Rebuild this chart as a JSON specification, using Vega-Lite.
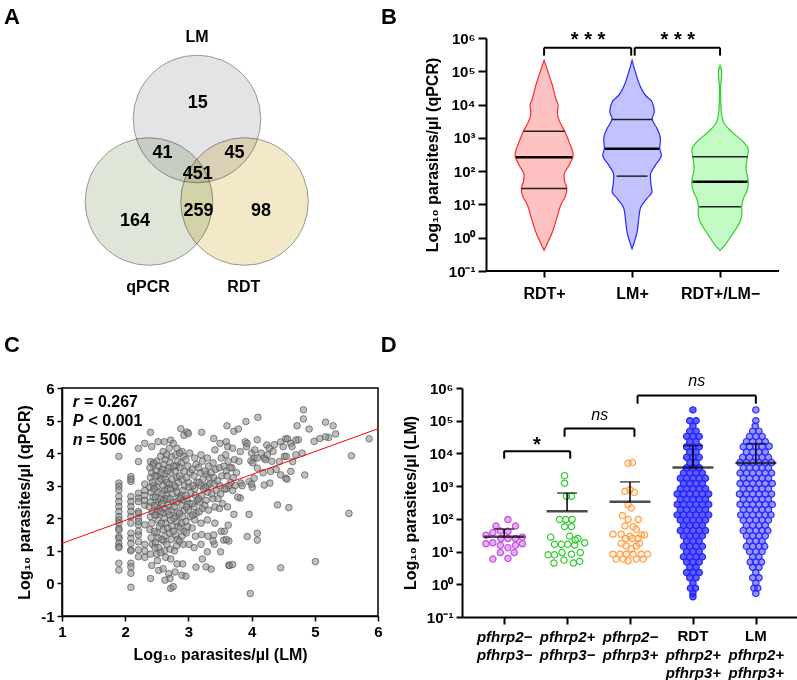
{
"$schema":"https://vega.github.io/schema/vega-lite/v6.json",
"padding":{"left":3,"top":5,"right":0,"bottom":0},
"autosize":{"type":"pad"},
"background":"white",
"columns":2,
"align":"none",
"bounds":"flush",
"spacing":{"row":117,"column":84},
"resolve":{"scale":{"fill":"independent","stroke":"independent"}},
"config":{"font":"Liberation Sans","view":{"stroke":null},
"axis":{"domainColor":"#000","tickColor":"#000","labelColor":"#000","titleColor":"#000","labelFontWeight":"bold","titleFontWeight":"bold","labelFontSize":15,"titleFontSize":16,"grid":false,"domainWidth":2,"tickWidth":2,"labelOverlap":false,"labelFlush":false}},
"datasets":{
"venn":[{"set":"LM","cx":0,"cy":0},{"set":"qPCR","cx":-0.667,"cy":-1.146},{"set":"RDT","cx":0.66,"cy":-1.146}],
"vtext":[{"kind":"label","t":"LM","x":0,"y":1.14},{"kind":"label","t":"qPCR","x":-0.68,"y":-2.33},{"kind":"label","t":"RDT","x":0.65,"y":-2.33},{"kind":"num","t":"15","x":0.01,"y":0.226},{"kind":"num","t":"41","x":-0.48,"y":-0.47},{"kind":"num","t":"45","x":0.52,"y":-0.47},{"kind":"num","t":"451","x":0.01,"y":-0.76},{"kind":"num","t":"164","x":-0.86,"y":-1.42},{"kind":"num","t":"259","x":0.02,"y":-1.28},{"kind":"num","t":"98","x":0.89,"y":-1.28}],
"violin":[
{"g":"RDT+","y":5.33,"lo":1,"hi":1},{"g":"RDT+","y":4.98,"lo":0.955,"hi":1.045},{"g":"RDT+","y":4.58,"lo":0.906,"hi":1.094},{"g":"RDT+","y":4.18,"lo":0.867,"hi":1.133},{"g":"RDT+","y":3.98,"lo":0.841,"hi":1.159},{"g":"RDT+","y":3.73,"lo":0.849,"hi":1.151},{"g":"RDT+","y":3.48,"lo":0.822,"hi":1.178},{"g":"RDT+","y":3.2,"lo":0.765,"hi":1.235},{"g":"RDT+","y":2.88,"lo":0.716,"hi":1.284},{"g":"RDT+","y":2.48,"lo":0.67,"hi":1.33},{"g":"RDT+","y":2.18,"lo":0.716,"hi":1.284},{"g":"RDT+","y":1.88,"lo":0.773,"hi":1.227},{"g":"RDT+","y":1.68,"lo":0.765,"hi":1.235},{"g":"RDT+","y":1.48,"lo":0.742,"hi":1.258},{"g":"RDT+","y":1.28,"lo":0.753,"hi":1.247},{"g":"RDT+","y":0.98,"lo":0.81,"hi":1.19},{"g":"RDT+","y":0.58,"lo":0.856,"hi":1.144},{"g":"RDT+","y":0.17,"lo":0.906,"hi":1.094},{"g":"RDT+","y":-0.13,"lo":0.955,"hi":1.045},{"g":"RDT+","y":-0.38,"lo":1,"hi":1},
{"g":"LM+","y":5.33,"lo":2,"hi":2},{"g":"LM+","y":4.98,"lo":1.962,"hi":2.038},{"g":"LM+","y":4.58,"lo":1.912,"hi":2.088},{"g":"LM+","y":4.28,"lo":1.849,"hi":2.151},{"g":"LM+","y":4.08,"lo":1.773,"hi":2.227},{"g":"LM+","y":3.78,"lo":1.747,"hi":2.253},{"g":"LM+","y":3.58,"lo":1.773,"hi":2.227},{"g":"LM+","y":3.28,"lo":1.716,"hi":2.284},{"g":"LM+","y":2.98,"lo":1.678,"hi":2.322},{"g":"LM+","y":2.68,"lo":1.685,"hi":2.315},{"g":"LM+","y":2.48,"lo":1.667,"hi":2.333},{"g":"LM+","y":2.18,"lo":1.735,"hi":2.265},{"g":"LM+","y":1.88,"lo":1.792,"hi":2.208},{"g":"LM+","y":1.58,"lo":1.784,"hi":2.216},{"g":"LM+","y":1.38,"lo":1.773,"hi":2.227},{"g":"LM+","y":1.18,"lo":1.83,"hi":2.17},{"g":"LM+","y":0.88,"lo":1.906,"hi":2.094},{"g":"LM+","y":0.58,"lo":1.924,"hi":2.076},{"g":"LM+","y":0.17,"lo":1.943,"hi":2.057},{"g":"LM+","y":-0.13,"lo":1.974,"hi":2.026},{"g":"LM+","y":-0.33,"lo":2,"hi":2},
{"g":"RDT+/LM−","y":5.18,"lo":3,"hi":3},{"g":"RDT+/LM−","y":4.98,"lo":2.981,"hi":3.019},{"g":"RDT+/LM−","y":4.78,"lo":2.985,"hi":3.015},{"g":"RDT+/LM−","y":4.48,"lo":2.994,"hi":3.006},{"g":"RDT+/LM−","y":3.88,"lo":2.989,"hi":3.011},{"g":"RDT+/LM−","y":3.48,"lo":2.962,"hi":3.038},{"g":"RDT+/LM−","y":3.18,"lo":2.867,"hi":3.133},{"g":"RDT+/LM−","y":2.88,"lo":2.735,"hi":3.265},{"g":"RDT+/LM−","y":2.63,"lo":2.678,"hi":3.322},{"g":"RDT+/LM−","y":2.43,"lo":2.69,"hi":3.31},{"g":"RDT+/LM−","y":2.08,"lo":2.705,"hi":3.295},{"g":"RDT+/LM−","y":1.68,"lo":2.678,"hi":3.322},{"g":"RDT+/LM−","y":1.38,"lo":2.697,"hi":3.303},{"g":"RDT+/LM−","y":1.18,"lo":2.735,"hi":3.265},{"g":"RDT+/LM−","y":0.93,"lo":2.753,"hi":3.247},{"g":"RDT+/LM−","y":0.68,"lo":2.753,"hi":3.247},{"g":"RDT+/LM−","y":0.38,"lo":2.792,"hi":3.208},{"g":"RDT+/LM−","y":0.08,"lo":2.867,"hi":3.133},{"g":"RDT+/LM−","y":-0.22,"lo":2.943,"hi":3.057},{"g":"RDT+/LM−","y":-0.38,"lo":3,"hi":3}],
"vq":[{"q":"quart","y":3.2,"lo":0.765,"hi":1.235},{"q":"med","y":2.42,"lo":0.678,"hi":1.322},{"q":"quart","y":1.48,"lo":0.742,"hi":1.258},{"q":"quart","y":3.55,"lo":1.769,"hi":2.231},{"q":"med","y":2.67,"lo":1.691,"hi":2.309},{"q":"quart","y":1.85,"lo":1.824,"hi":2.176},{"q":"quart","y":2.43,"lo":2.688,"hi":3.312},{"q":"med","y":1.68,"lo":2.688,"hi":3.312},{"q":"quart","y":0.93,"lo":2.763,"hi":3.237}],
"bbr":[{"x1":1,"x2":1.99,"y1":5.71,"y2":5.71},{"x1":1,"x2":1,"y1":5.71,"y2":5.47},{"x1":1.99,"x2":1.99,"y1":5.71,"y2":5.47},{"x1":2.03,"x2":3,"y1":5.71,"y2":5.71},{"x1":2.03,"x2":2.03,"y1":5.71,"y2":5.47},{"x1":3,"x2":3,"y1":5.71,"y2":5.47}],
"bax":[{"x1":0.34,"x2":3.67,"y":-1}],
"bst":[{"t":"* * *","x":1.5,"y":5.94},{"t":"* * *","x":2.52,"y":5.94}],
"sc":[
{"x":1.9,"y":3.9},{"x":1.9,"y":3.08},{"x":1.9,"y":2.98},{"x":1.9,"y":2.87},{"x":1.9,"y":2.67},{"x":1.9,"y":2.51},{"x":1.9,"y":2.36},{"x":1.9,"y":2.21},{"x":1.9,"y":2.05},{"x":1.9,"y":1.95},{"x":1.9,"y":1.85},{"x":1.9,"y":1.69},{"x":1.9,"y":1.64},{"x":1.9,"y":1.44},{"x":1.9,"y":1.38},{"x":1.9,"y":1.23},{"x":1.9,"y":1.13},{"x":1.9,"y":1.1},{"x":1.9,"y":0.62},{"x":1.9,"y":0.41},
{"x":2.09,"y":3.28},{"x":2.09,"y":3.13},{"x":2.09,"y":3.2},{"x":2.09,"y":2.67},{"x":2.09,"y":2.51},{"x":2.09,"y":2.36},{"x":2.09,"y":2.21},{"x":2.09,"y":2.05},{"x":2.09,"y":1.85},{"x":2.09,"y":1.54},{"x":2.09,"y":1.39},{"x":2.09,"y":1.23},{"x":2.09,"y":1.03},{"x":2.09,"y":1.0},{"x":2.09,"y":0.62},{"x":2.09,"y":0.51},{"x":2.09,"y":0.31},{"x":2.09,"y":-0.12},
{"x":2.21,"y":4.15},{"x":2.21,"y":3.74},{"x":2.21,"y":2.77},{"x":2.21,"y":2.62},{"x":2.21,"y":2.51},{"x":2.21,"y":2.21},{"x":2.21,"y":2.15},{"x":2.21,"y":2.0},{"x":2.21,"y":1.8},{"x":2.21,"y":1.49},{"x":2.21,"y":1.28},{"x":2.21,"y":1.03},{"x":2.21,"y":0.82},{"x":2.21,"y":1.6},{"x":2.21,"y":1.9},
{"x":2.31,"y":4.3},{"x":2.31,"y":2.85},{"x":2.31,"y":2.7},{"x":2.31,"y":2.4},{"x":2.31,"y":1.8},{"x":2.31,"y":1.2},{"x":2.31,"y":0.8},{"x":2.31,"y":1.0},{"x":2.31,"y":2.55},{"x":2.31,"y":3.05},
{"x":2.4,"y":4.64},{"x":2.42,"y":4.2},{"x":2.4,"y":3.74},{"x":2.44,"y":3.64},{"x":2.39,"y":3.55},{"x":2.42,"y":3.4},{"x":2.4,"y":3.25},{"x":2.43,"y":3.1},{"x":2.39,"y":2.95},{"x":2.41,"y":2.8},{"x":2.44,"y":2.65},{"x":2.4,"y":2.5},{"x":2.38,"y":2.35},{"x":2.43,"y":2.2},{"x":2.4,"y":2.05},{"x":2.42,"y":1.85},{"x":2.39,"y":1.65},{"x":2.41,"y":1.4},{"x":2.43,"y":1.2},{"x":2.4,"y":0.9},{"x":2.42,"y":0.55},{"x":2.4,"y":0.15},{"x":2.45,"y":3.0},{"x":2.46,"y":2.4},
{"x":2.52,"y":4.35},{"x":2.5,"y":3.75},{"x":2.53,"y":3.6},{"x":2.49,"y":3.45},{"x":2.51,"y":3.3},{"x":2.54,"y":3.15},{"x":2.5,"y":2.95},{"x":2.52,"y":2.8},{"x":2.48,"y":2.65},{"x":2.53,"y":2.5},{"x":2.5,"y":2.4},{"x":2.55,"y":2.3},{"x":2.51,"y":2.2},{"x":2.49,"y":2.1},{"x":2.52,"y":1.95},{"x":2.54,"y":1.75},{"x":2.5,"y":1.55},{"x":2.52,"y":1.4},{"x":2.48,"y":1.25},{"x":2.53,"y":1.1},{"x":2.5,"y":0.9},{"x":2.51,"y":0.7},{"x":2.53,"y":0.4},{"x":2.56,"y":2.6},{"x":2.57,"y":3.2},
{"x":2.62,"y":4.35},{"x":2.6,"y":4.05},{"x":2.63,"y":3.8},{"x":2.61,"y":3.65},{"x":2.59,"y":3.5},{"x":2.62,"y":3.35},{"x":2.64,"y":3.2},{"x":2.6,"y":3.0},{"x":2.62,"y":2.85},{"x":2.65,"y":2.7},{"x":2.61,"y":2.55},{"x":2.58,"y":2.45},{"x":2.63,"y":2.3},{"x":2.6,"y":2.15},{"x":2.62,"y":2.0},{"x":2.64,"y":1.85},{"x":2.6,"y":1.65},{"x":2.63,"y":1.45},{"x":2.61,"y":1.3},{"x":2.62,"y":1.0},{"x":2.64,"y":0.8},{"x":2.6,"y":0.45},{"x":2.63,"y":0.1},{"x":2.66,"y":2.6},{"x":2.67,"y":2.9},
{"x":2.72,"y":4.4},{"x":2.7,"y":4.15},{"x":2.73,"y":3.9},{"x":2.71,"y":3.7},{"x":2.69,"y":3.55},{"x":2.72,"y":3.4},{"x":2.74,"y":3.2},{"x":2.7,"y":3.05},{"x":2.72,"y":2.9},{"x":2.75,"y":2.75},{"x":2.71,"y":2.6},{"x":2.68,"y":2.4},{"x":2.73,"y":2.25},{"x":2.7,"y":2.1},{"x":2.72,"y":1.95},{"x":2.74,"y":1.75},{"x":2.7,"y":1.55},{"x":2.73,"y":1.35},{"x":2.71,"y":1.05},{"x":2.72,"y":0.75},{"x":2.69,"y":0.3},{"x":2.71,"y":0.15},{"x":2.72,"y":-0.15},{"x":2.76,"y":2.5},
{"x":2.82,"y":4.15},{"x":2.8,"y":3.95},{"x":2.83,"y":3.75},{"x":2.81,"y":3.6},{"x":2.79,"y":3.45},{"x":2.82,"y":3.25},{"x":2.84,"y":3.1},{"x":2.8,"y":2.95},{"x":2.82,"y":2.8},{"x":2.85,"y":2.65},{"x":2.81,"y":2.5},{"x":2.78,"y":2.35},{"x":2.83,"y":2.2},{"x":2.8,"y":2.05},{"x":2.82,"y":1.9},{"x":2.84,"y":1.75},{"x":2.8,"y":1.5},{"x":2.83,"y":1.35},{"x":2.81,"y":1.15},{"x":2.82,"y":0.6},{"x":2.79,"y":0.35},{"x":2.76,"y":-0.1},
{"x":2.88,"y":4.75},{"x":2.93,"y":4.55},{"x":2.9,"y":4.05},{"x":2.92,"y":3.9},{"x":2.89,"y":3.7},{"x":2.93,"y":3.45},{"x":2.9,"y":3.2},{"x":2.94,"y":3.0},{"x":2.91,"y":2.85},{"x":2.89,"y":2.7},{"x":2.92,"y":2.55},{"x":2.9,"y":2.4},{"x":2.94,"y":2.25},{"x":2.91,"y":2.05},{"x":2.89,"y":1.85},{"x":2.93,"y":1.6},{"x":2.9,"y":1.45},{"x":2.92,"y":1.2},{"x":2.91,"y":0.6},{"x":2.9,"y":0.25},
{"x":2.98,"y":4.65},{"x":3.0,"y":4.6},{"x":3.02,"y":4.0},{"x":2.99,"y":3.6},{"x":3.03,"y":3.4},{"x":3.0,"y":3.1},{"x":3.01,"y":2.95},{"x":3.04,"y":2.8},{"x":2.98,"y":2.6},{"x":3.02,"y":2.45},{"x":3.0,"y":2.25},{"x":3.03,"y":2.05},{"x":2.99,"y":1.75},{"x":3.01,"y":1.2},{"x":2.96,"y":0.22},
{"x":3.1,"y":3.85},{"x":3.12,"y":3.65},{"x":3.09,"y":3.3},{"x":3.13,"y":3.1},{"x":3.1,"y":2.9},{"x":3.11,"y":2.7},{"x":3.14,"y":2.55},{"x":3.09,"y":2.35},{"x":3.12,"y":2.15},{"x":3.1,"y":1.95},{"x":3.11,"y":1.45},{"x":3.09,"y":1.1},{"x":3.12,"y":0.5},
{"x":3.21,"y":4.64},{"x":3.2,"y":3.95},{"x":3.22,"y":3.75},{"x":3.19,"y":3.4},{"x":3.23,"y":3.2},{"x":3.2,"y":3.0},{"x":3.24,"y":2.9},{"x":3.21,"y":2.7},{"x":3.18,"y":2.5},{"x":3.22,"y":2.3},{"x":3.2,"y":1.85},{"x":3.21,"y":1.5},{"x":3.2,"y":1.2},{"x":3.22,"y":0.75},
{"x":3.3,"y":3.85},{"x":3.32,"y":3.6},{"x":3.29,"y":3.35},{"x":3.33,"y":3.25},{"x":3.3,"y":3.0},{"x":3.31,"y":2.8},{"x":3.28,"y":2.55},{"x":3.32,"y":2.25},{"x":3.3,"y":1.95},{"x":3.31,"y":1.45},{"x":3.3,"y":0.97},{"x":3.28,"y":0.51},{"x":3.34,"y":3.05},
{"x":3.4,"y":4.45},{"x":3.42,"y":4.1},{"x":3.39,"y":3.7},{"x":3.43,"y":3.5},{"x":3.4,"y":3.25},{"x":3.41,"y":3.05},{"x":3.44,"y":2.85},{"x":3.39,"y":2.6},{"x":3.42,"y":2.35},{"x":3.42,"y":1.85},{"x":3.4,"y":1.49},{"x":3.41,"y":1.2},{"x":3.39,"y":1.3},{"x":3.36,"y":0.44},
{"x":3.5,"y":4.3},{"x":3.52,"y":3.85},{"x":3.49,"y":3.55},{"x":3.53,"y":3.3},{"x":3.5,"y":3.0},{"x":3.51,"y":2.75},{"x":3.54,"y":2.45},{"x":3.49,"y":2.3},{"x":3.52,"y":1.6},{"x":3.56,"y":1.33},{"x":3.51,"y":0.97},{"x":3.57,"y":1.6},
{"x":3.61,"y":4.84},{"x":3.6,"y":4.35},{"x":3.62,"y":4.2},{"x":3.59,"y":3.95},{"x":3.63,"y":3.75},{"x":3.6,"y":3.45},{"x":3.61,"y":3.3},{"x":3.64,"y":3.0},{"x":3.6,"y":2.9},{"x":3.62,"y":2.35},{"x":3.63,"y":1.79},{"x":3.64,"y":1.3},{"x":3.6,"y":1.35},{"x":3.64,"y":0.56},{"x":3.65,"y":0.55},
{"x":3.72,"y":4.67},{"x":3.7,"y":4.15},{"x":3.73,"y":3.8},{"x":3.69,"y":3.55},{"x":3.71,"y":3.25},{"x":3.74,"y":3.0},{"x":3.7,"y":2.85},{"x":3.72,"y":2.12},{"x":3.7,"y":0.58},
{"x":3.79,"y":4.74},{"x":3.82,"y":4.05},{"x":3.8,"y":3.75},{"x":3.83,"y":3.08},{"x":3.82,"y":2.62},{"x":3.85,"y":3.0},
{"x":3.91,"y":4.97},{"x":3.9,"y":4.35},{"x":3.92,"y":4.2},{"x":3.99,"y":3.76},{"x":3.96,"y":3.13},{"x":3.96,"y":2.12},{"x":3.93,"y":1.44},{"x":3.98,"y":0.49},{"x":3.98,"y":-0.31},{"x":3.93,"y":4.3},
{"x":4.0,"y":4.0},{"x":4.04,"y":3.85},{"x":4.02,"y":3.7},{"x":4.04,"y":3.23},{"x":4.01,"y":2.95},{"x":4.0,"y":3.05},{"x":4.05,"y":4.1},
{"x":4.1,"y":5.1},{"x":4.09,"y":4.41},{"x":4.09,"y":3.85},{"x":4.09,"y":3.54},{"x":4.09,"y":1.54},{"x":4.09,"y":1.33},{"x":4.15,"y":4.0},
{"x":4.2,"y":3.85},{"x":4.22,"y":3.8},{"x":4.2,"y":3.02},{"x":4.18,"y":3.4},{"x":4.24,"y":4.25},{"x":4.25,"y":3.95},
{"x":4.28,"y":4.15},{"x":4.3,"y":3.44},{"x":4.29,"y":3.08},{"x":4.32,"y":3.75},{"x":4.34,"y":4.05},
{"x":4.36,"y":4.26},{"x":4.46,"y":4.34},{"x":4.44,"y":3.74},{"x":4.46,"y":3.33},{"x":4.41,"y":2.41},{"x":4.46,"y":0.48},{"x":4.39,"y":3.5},
{"x":4.54,"y":4.44},{"x":4.5,"y":4.2},{"x":4.52,"y":3.9},{"x":4.54,"y":3.23},{"x":4.56,"y":3.2},{"x":4.55,"y":3.9},
{"x":4.57,"y":4.44},{"x":4.62,"y":4.3},{"x":4.65,"y":3.74},{"x":4.62,"y":3.44},{"x":4.59,"y":2.33},{"x":4.64,"y":4.2},{"x":4.7,"y":3.95},
{"x":4.72,"y":4.84},{"x":4.74,"y":4.41},{"x":4.7,"y":4.4},
{"x":4.82,"y":5.33},{"x":4.82,"y":5.05},{"x":4.8,"y":4.0},{"x":4.84,"y":3.33},
{"x":4.91,"y":4.74},{"x":4.99,"y":4.36},{"x":5.01,"y":0.67},{"x":5.08,"y":4.45},{"x":5.17,"y":4.95},{"x":5.22,"y":4.48},{"x":5.29,"y":4.84},{"x":5.33,"y":4.59},{"x":5.17,"y":4.5},{"x":5.54,"y":2.15},{"x":5.58,"y":3.92},{"x":5.86,"y":4.44},
{"x":2.45,"y":3.7},{"x":2.47,"y":3.3},{"x":2.46,"y":2.9},{"x":2.47,"y":2.1},{"x":2.46,"y":1.6},{"x":2.47,"y":1.1},
{"x":2.56,"y":3.9},{"x":2.57,"y":3.4},{"x":2.58,"y":2.75},{"x":2.56,"y":2.2},{"x":2.57,"y":1.85},{"x":2.58,"y":1.35},{"x":2.56,"y":0.95},
{"x":2.66,"y":3.95},{"x":2.67,"y":3.45},{"x":2.66,"y":3.1},{"x":2.68,"y":2.2},{"x":2.67,"y":1.7},{"x":2.66,"y":1.2},
{"x":2.76,"y":4.3},{"x":2.77,"y":3.6},{"x":2.78,"y":3.0},{"x":2.77,"y":2.0},{"x":2.76,"y":1.6},{"x":2.78,"y":1.0},
{"x":2.86,"y":4.0},{"x":2.87,"y":3.55},{"x":2.86,"y":3.3},{"x":2.87,"y":2.6},{"x":2.86,"y":2.15},{"x":2.87,"y":1.7},{"x":2.86,"y":1.3},
{"x":2.96,"y":3.8},{"x":2.97,"y":3.25},{"x":2.96,"y":2.7},{"x":2.97,"y":2.35},{"x":2.96,"y":1.9},{"x":2.97,"y":1.55},
{"x":3.06,"y":3.5},{"x":3.07,"y":3.0},{"x":3.06,"y":2.45},{"x":3.07,"y":2.1},{"x":3.06,"y":1.7},
{"x":3.16,"y":3.55},{"x":3.17,"y":3.1},{"x":3.16,"y":2.6},{"x":3.17,"y":2.2},
{"x":3.26,"y":3.45},{"x":3.27,"y":2.95},{"x":3.26,"y":2.4},{"x":3.36,"y":3.4},{"x":3.37,"y":2.75},{"x":3.46,"y":3.15},{"x":3.47,"y":2.6},{"x":3.56,"y":3.6},{"x":3.57,"y":2.9},{"x":3.66,"y":3.55},{"x":3.67,"y":3.1},{"x":3.76,"y":3.4},{"x":3.78,"y":2.65}],
"reg":[{"x":1,"y":1.23},{"x":6,"y":4.75}],
"cst":[{"part":"sym","t":"r","x":1.17,"y":5.57},{"part":"val","t":"= 0.267","x":1.35,"y":5.57},{"part":"sym","t":"P","x":1.17,"y":4.98},{"part":"val","t":"< 0.001","x":1.42,"y":4.98},{"part":"sym","t":"n","x":1.17,"y":4.41},{"part":"val","t":"= 506","x":1.38,"y":4.41}],
"dp":[
{"g":"p2-p3-","x":1.06,"y":1.98},{"g":"p2-p3-","x":0.87,"y":1.78},{"g":"p2-p3-","x":1.18,"y":1.78},{"g":"p2-p3-","x":0.94,"y":1.63},{"g":"p2-p3-","x":0.82,"y":1.58},{"g":"p2-p3-","x":0.71,"y":1.5},{"g":"p2-p3-","x":0.95,"y":1.4},{"g":"p2-p3-","x":1.06,"y":1.4},{"g":"p2-p3-","x":1.18,"y":1.4},{"g":"p2-p3-","x":1.29,"y":1.44},{"g":"p2-p3-","x":0.71,"y":1.24},{"g":"p2-p3-","x":0.82,"y":1.27},{"g":"p2-p3-","x":0.94,"y":1.19},{"g":"p2-p3-","x":1.06,"y":1.12},{"g":"p2-p3-","x":1.18,"y":1.19},{"g":"p2-p3-","x":1.29,"y":1.24},{"g":"p2-p3-","x":0.94,"y":0.97},{"g":"p2-p3-","x":1.16,"y":0.97},{"g":"p2-p3-","x":0.82,"y":0.77},{"g":"p2-p3-","x":1.06,"y":0.79},{"g":"p2-p3-","x":1.06,"y":1.62},
{"g":"p2+p3-","x":1.96,"y":3.32},{"g":"p2+p3-","x":1.96,"y":3.09},{"g":"p2+p3-","x":1.99,"y":2.69},{"g":"p2+p3-","x":2.07,"y":2.69},{"g":"p2+p3-","x":1.88,"y":1.98},{"g":"p2+p3-","x":1.98,"y":1.98},{"g":"p2+p3-","x":2.08,"y":1.98},{"g":"p2+p3-","x":1.96,"y":1.76},{"g":"p2+p3-","x":2.07,"y":1.76},{"g":"p2+p3-","x":1.74,"y":1.44},{"g":"p2+p3-","x":2.04,"y":1.47},{"g":"p2+p3-","x":2.17,"y":1.4},{"g":"p2+p3-","x":2.28,"y":1.27},{"g":"p2+p3-","x":1.8,"y":1.22},{"g":"p2+p3-","x":1.91,"y":1.22},{"g":"p2+p3-","x":2.01,"y":1.22},{"g":"p2+p3-","x":2.12,"y":1.2},{"g":"p2+p3-","x":1.7,"y":0.9},{"g":"p2+p3-","x":1.8,"y":0.9},{"g":"p2+p3-","x":1.92,"y":0.97},{"g":"p2+p3-","x":2.07,"y":0.92},{"g":"p2+p3-","x":2.21,"y":0.97},{"g":"p2+p3-","x":1.79,"y":0.65},{"g":"p2+p3-","x":1.95,"y":0.74},{"g":"p2+p3-","x":2.1,"y":0.65},{"g":"p2+p3-","x":2.2,"y":0.7},{"g":"p2+p3-","x":2.13,"y":1.35},
{"g":"p2-p3+","x":2.97,"y":3.7},{"g":"p2-p3+","x":3.04,"y":3.72},{"g":"p2-p3+","x":3.0,"y":2.89},{"g":"p2-p3+","x":2.92,"y":2.84},{"g":"p2-p3+","x":3.07,"y":2.81},{"g":"p2-p3+","x":2.97,"y":2.43},{"g":"p2-p3+","x":3.02,"y":2.33},{"g":"p2-p3+","x":2.88,"y":2.1},{"g":"p2-p3+","x":2.97,"y":1.98},{"g":"p2-p3+","x":3.13,"y":1.98},{"g":"p2-p3+","x":2.92,"y":1.78},{"g":"p2-p3+","x":3.05,"y":1.76},{"g":"p2-p3+","x":3.1,"y":1.68},{"g":"p2-p3+","x":2.73,"y":1.53},{"g":"p2-p3+","x":2.86,"y":1.53},{"g":"p2-p3+","x":3.0,"y":1.47},{"g":"p2-p3+","x":3.18,"y":1.51},{"g":"p2-p3+","x":3.23,"y":1.51},{"g":"p2-p3+","x":2.93,"y":1.4},{"g":"p2-p3+","x":3.04,"y":1.4},{"g":"p2-p3+","x":3.13,"y":1.4},{"g":"p2-p3+","x":2.94,"y":1.17},{"g":"p2-p3+","x":3.1,"y":1.17},{"g":"p2-p3+","x":2.73,"y":0.92},{"g":"p2-p3+","x":2.84,"y":0.92},{"g":"p2-p3+","x":2.94,"y":0.92},{"g":"p2-p3+","x":3.05,"y":0.92},{"g":"p2-p3+","x":3.18,"y":0.92},{"g":"p2-p3+","x":3.28,"y":0.92},{"g":"p2-p3+","x":2.78,"y":0.77},{"g":"p2-p3+","x":2.89,"y":0.77},{"g":"p2-p3+","x":2.97,"y":0.72},{"g":"p2-p3+","x":3.1,"y":0.77},{"g":"p2-p3+","x":3.21,"y":0.77},{"g":"p2-p3+","x":3.02,"y":1.08},{"g":"p2-p3+","x":2.86,"y":1.25},{"g":"p2-p3+","x":3.15,"y":1.25},
{"g":"RDT","x":4.0,"y":5.33},{"g":"RDT","x":3.95,"y":5.0},{"g":"RDT","x":4.05,"y":5.0},{"g":"RDT","x":4.0,"y":4.84},{"g":"RDT","x":3.95,"y":4.68},{"g":"RDT","x":4.05,"y":4.68},{"g":"RDT","x":3.9,"y":4.52},{"g":"RDT","x":4.0,"y":4.52},{"g":"RDT","x":4.1,"y":4.52},{"g":"RDT","x":3.95,"y":4.36},{"g":"RDT","x":4.05,"y":4.36},{"g":"RDT","x":3.9,"y":4.2},{"g":"RDT","x":4.0,"y":4.2},{"g":"RDT","x":4.1,"y":4.2},{"g":"RDT","x":3.95,"y":4.04},{"g":"RDT","x":4.05,"y":4.04},{"g":"RDT","x":3.9,"y":3.88},{"g":"RDT","x":4.0,"y":3.88},{"g":"RDT","x":4.1,"y":3.88},{"g":"RDT","x":3.95,"y":3.72},{"g":"RDT","x":4.05,"y":3.72},{"g":"RDT","x":3.9,"y":3.56},{"g":"RDT","x":4.0,"y":3.56},{"g":"RDT","x":4.1,"y":3.56},
{"g":"RDT","x":3.85,"y":3.4},{"g":"RDT","x":3.95,"y":3.4},{"g":"RDT","x":4.05,"y":3.4},{"g":"RDT","x":4.15,"y":3.4},
{"g":"RDT","x":3.8,"y":3.24},{"g":"RDT","x":3.9,"y":3.24},{"g":"RDT","x":4.0,"y":3.24},{"g":"RDT","x":4.1,"y":3.24},{"g":"RDT","x":4.2,"y":3.24},
{"g":"RDT","x":3.85,"y":3.08},{"g":"RDT","x":3.95,"y":3.08},{"g":"RDT","x":4.05,"y":3.08},{"g":"RDT","x":4.15,"y":3.08},
{"g":"RDT","x":3.8,"y":2.92},{"g":"RDT","x":3.9,"y":2.92},{"g":"RDT","x":4.0,"y":2.92},{"g":"RDT","x":4.1,"y":2.92},{"g":"RDT","x":4.2,"y":2.92},
{"g":"RDT","x":3.75,"y":2.76},{"g":"RDT","x":3.85,"y":2.76},{"g":"RDT","x":3.95,"y":2.76},{"g":"RDT","x":4.05,"y":2.76},{"g":"RDT","x":4.15,"y":2.76},{"g":"RDT","x":4.25,"y":2.76},
{"g":"RDT","x":3.8,"y":2.6},{"g":"RDT","x":3.9,"y":2.6},{"g":"RDT","x":4.0,"y":2.6},{"g":"RDT","x":4.1,"y":2.6},{"g":"RDT","x":4.2,"y":2.6},
{"g":"RDT","x":3.75,"y":2.44},{"g":"RDT","x":3.85,"y":2.44},{"g":"RDT","x":3.95,"y":2.44},{"g":"RDT","x":4.05,"y":2.44},{"g":"RDT","x":4.15,"y":2.44},{"g":"RDT","x":4.25,"y":2.44},
{"g":"RDT","x":3.8,"y":2.28},{"g":"RDT","x":3.9,"y":2.28},{"g":"RDT","x":4.0,"y":2.28},{"g":"RDT","x":4.1,"y":2.28},{"g":"RDT","x":4.2,"y":2.28},
{"g":"RDT","x":3.75,"y":2.12},{"g":"RDT","x":3.85,"y":2.12},{"g":"RDT","x":3.95,"y":2.12},{"g":"RDT","x":4.05,"y":2.12},{"g":"RDT","x":4.15,"y":2.12},{"g":"RDT","x":4.25,"y":2.12},
{"g":"RDT","x":3.8,"y":1.96},{"g":"RDT","x":3.9,"y":1.96},{"g":"RDT","x":4.0,"y":1.96},{"g":"RDT","x":4.1,"y":1.96},{"g":"RDT","x":4.2,"y":1.96},
{"g":"RDT","x":3.85,"y":1.8},{"g":"RDT","x":3.95,"y":1.8},{"g":"RDT","x":4.05,"y":1.8},{"g":"RDT","x":4.15,"y":1.8},
{"g":"RDT","x":3.8,"y":1.64},{"g":"RDT","x":3.9,"y":1.64},{"g":"RDT","x":4.0,"y":1.64},{"g":"RDT","x":4.1,"y":1.64},{"g":"RDT","x":4.2,"y":1.64},
{"g":"RDT","x":3.85,"y":1.48},{"g":"RDT","x":3.95,"y":1.48},{"g":"RDT","x":4.05,"y":1.48},{"g":"RDT","x":4.15,"y":1.48},
{"g":"RDT","x":3.9,"y":1.32},{"g":"RDT","x":4.0,"y":1.32},{"g":"RDT","x":4.1,"y":1.32},
{"g":"RDT","x":3.85,"y":1.16},{"g":"RDT","x":3.95,"y":1.16},{"g":"RDT","x":4.05,"y":1.16},{"g":"RDT","x":4.15,"y":1.16},
{"g":"RDT","x":3.9,"y":1.0},{"g":"RDT","x":4.0,"y":1.0},{"g":"RDT","x":4.1,"y":1.0},
{"g":"RDT","x":3.85,"y":0.84},{"g":"RDT","x":3.95,"y":0.84},{"g":"RDT","x":4.05,"y":0.84},{"g":"RDT","x":4.15,"y":0.84},
{"g":"RDT","x":3.9,"y":0.68},{"g":"RDT","x":4.0,"y":0.68},{"g":"RDT","x":4.1,"y":0.68},
{"g":"RDT","x":3.95,"y":0.52},{"g":"RDT","x":4.05,"y":0.52},
{"g":"RDT","x":3.9,"y":0.36},{"g":"RDT","x":4.0,"y":0.36},{"g":"RDT","x":4.1,"y":0.36},
{"g":"RDT","x":3.95,"y":0.2},{"g":"RDT","x":4.05,"y":0.2},{"g":"RDT","x":4.0,"y":0.04},{"g":"RDT","x":3.96,"y":-0.12},{"g":"RDT","x":4.04,"y":-0.12},{"g":"RDT","x":4.0,"y":-0.28},{"g":"RDT","x":4.0,"y":-0.38},
{"g":"LM","x":5.0,"y":5.33},{"g":"LM","x":5.0,"y":5.0},{"g":"LM","x":4.99,"y":4.84},{"g":"LM","x":4.95,"y":4.68},{"g":"LM","x":5.05,"y":4.68},
{"g":"LM","x":4.9,"y":4.52},{"g":"LM","x":5.0,"y":4.52},{"g":"LM","x":5.1,"y":4.52},
{"g":"LM","x":4.85,"y":4.36},{"g":"LM","x":4.95,"y":4.36},{"g":"LM","x":5.05,"y":4.36},{"g":"LM","x":5.15,"y":4.36},
{"g":"LM","x":4.8,"y":4.2},{"g":"LM","x":4.9,"y":4.2},{"g":"LM","x":5.0,"y":4.2},{"g":"LM","x":5.1,"y":4.2},{"g":"LM","x":5.21,"y":4.22},
{"g":"LM","x":4.85,"y":4.04},{"g":"LM","x":4.95,"y":4.04},{"g":"LM","x":5.05,"y":4.04},{"g":"LM","x":5.15,"y":4.04},
{"g":"LM","x":4.79,"y":3.88},{"g":"LM","x":4.9,"y":3.88},{"g":"LM","x":5.0,"y":3.88},{"g":"LM","x":5.1,"y":3.88},{"g":"LM","x":5.2,"y":3.88},
{"g":"LM","x":4.75,"y":3.72},{"g":"LM","x":4.85,"y":3.72},{"g":"LM","x":4.95,"y":3.72},{"g":"LM","x":5.05,"y":3.72},{"g":"LM","x":5.15,"y":3.72},{"g":"LM","x":5.25,"y":3.72},
{"g":"LM","x":4.8,"y":3.56},{"g":"LM","x":4.9,"y":3.56},{"g":"LM","x":5.0,"y":3.56},{"g":"LM","x":5.1,"y":3.56},{"g":"LM","x":5.2,"y":3.56},
{"g":"LM","x":4.75,"y":3.4},{"g":"LM","x":4.85,"y":3.4},{"g":"LM","x":4.95,"y":3.4},{"g":"LM","x":5.05,"y":3.4},{"g":"LM","x":5.15,"y":3.4},{"g":"LM","x":5.25,"y":3.4},
{"g":"LM","x":4.8,"y":3.24},{"g":"LM","x":4.9,"y":3.24},{"g":"LM","x":5.0,"y":3.24},{"g":"LM","x":5.1,"y":3.24},{"g":"LM","x":5.2,"y":3.24},
{"g":"LM","x":4.75,"y":3.08},{"g":"LM","x":4.85,"y":3.08},{"g":"LM","x":4.95,"y":3.08},{"g":"LM","x":5.05,"y":3.08},{"g":"LM","x":5.15,"y":3.08},{"g":"LM","x":5.26,"y":3.08},
{"g":"LM","x":4.8,"y":2.92},{"g":"LM","x":4.9,"y":2.92},{"g":"LM","x":5.0,"y":2.92},{"g":"LM","x":5.1,"y":2.92},{"g":"LM","x":5.2,"y":2.92},
{"g":"LM","x":4.74,"y":2.76},{"g":"LM","x":4.85,"y":2.76},{"g":"LM","x":4.95,"y":2.76},{"g":"LM","x":5.05,"y":2.76},{"g":"LM","x":5.15,"y":2.76},{"g":"LM","x":5.25,"y":2.76},
{"g":"LM","x":4.8,"y":2.6},{"g":"LM","x":4.9,"y":2.6},{"g":"LM","x":5.0,"y":2.6},{"g":"LM","x":5.1,"y":2.6},{"g":"LM","x":5.2,"y":2.6},
{"g":"LM","x":4.75,"y":2.44},{"g":"LM","x":4.85,"y":2.44},{"g":"LM","x":4.95,"y":2.44},{"g":"LM","x":5.05,"y":2.44},{"g":"LM","x":5.15,"y":2.44},{"g":"LM","x":5.26,"y":2.44},
{"g":"LM","x":4.8,"y":2.28},{"g":"LM","x":4.9,"y":2.28},{"g":"LM","x":5.0,"y":2.28},{"g":"LM","x":5.1,"y":2.28},{"g":"LM","x":5.2,"y":2.28},
{"g":"LM","x":4.76,"y":2.12},{"g":"LM","x":4.85,"y":2.12},{"g":"LM","x":4.95,"y":2.12},{"g":"LM","x":5.05,"y":2.12},{"g":"LM","x":5.15,"y":2.12},{"g":"LM","x":5.24,"y":2.12},
{"g":"LM","x":4.8,"y":1.96},{"g":"LM","x":4.9,"y":1.96},{"g":"LM","x":5.0,"y":1.96},{"g":"LM","x":5.1,"y":1.96},{"g":"LM","x":5.2,"y":1.96},
{"g":"LM","x":4.85,"y":1.8},{"g":"LM","x":4.95,"y":1.8},{"g":"LM","x":5.05,"y":1.8},{"g":"LM","x":5.15,"y":1.8},
{"g":"LM","x":4.8,"y":1.64},{"g":"LM","x":4.9,"y":1.64},{"g":"LM","x":5.0,"y":1.64},{"g":"LM","x":5.1,"y":1.64},{"g":"LM","x":5.19,"y":1.64},
{"g":"LM","x":4.85,"y":1.48},{"g":"LM","x":4.95,"y":1.48},{"g":"LM","x":5.05,"y":1.48},{"g":"LM","x":5.15,"y":1.48},
{"g":"LM","x":4.9,"y":1.32},{"g":"LM","x":5.0,"y":1.32},{"g":"LM","x":5.1,"y":1.32},
{"g":"LM","x":4.85,"y":1.16},{"g":"LM","x":4.95,"y":1.16},{"g":"LM","x":5.05,"y":1.16},{"g":"LM","x":5.14,"y":1.16},
{"g":"LM","x":4.9,"y":1.0},{"g":"LM","x":5.0,"y":1.0},{"g":"LM","x":5.1,"y":1.0},
{"g":"LM","x":4.95,"y":0.84},{"g":"LM","x":5.05,"y":0.84},{"g":"LM","x":4.91,"y":0.68},{"g":"LM","x":5.0,"y":0.68},{"g":"LM","x":5.09,"y":0.68},
{"g":"LM","x":4.95,"y":0.52},{"g":"LM","x":5.05,"y":0.52},{"g":"LM","x":5.0,"y":0.36},{"g":"LM","x":4.95,"y":0.2},{"g":"LM","x":5.05,"y":0.2},{"g":"LM","x":5.0,"y":0.04},{"g":"LM","x":4.97,"y":-0.12},{"g":"LM","x":5.03,"y":-0.12},{"g":"LM","x":5.0,"y":-0.28}],
"msd":[{"x":1,"mean":1.45,"sd":1.69},{"x":2,"mean":2.23,"sd":2.79},{"x":3,"mean":2.52,"sd":3.13},{"x":4,"mean":3.57,"sd":4.24},{"x":5,"mean":3.71,"sd":4.3}],
"dbr":[{"x1":1,"x2":2.05,"y1":4.07,"y2":4.07},{"x1":1,"x2":1,"y1":4.07,"y2":3.84},{"x1":2.05,"x2":2.05,"y1":4.07,"y2":3.84},{"x1":1.96,"x2":3.07,"y1":4.76,"y2":4.76},{"x1":1.96,"x2":1.96,"y1":4.76,"y2":4.51},{"x1":3.07,"x2":3.07,"y1":4.76,"y2":4.51},{"x1":3.12,"x2":5,"y1":5.77,"y2":5.77},{"x1":3.12,"x2":3.12,"y1":5.77,"y2":5.52},{"x1":5,"x2":5,"y1":5.77,"y2":5.52}],
"dst":[{"kind":"star","t":"*","x":1.52,"y":4.27},{"kind":"ns","t":"ns","x":2.52,"y":5.18},{"kind":"ns","t":"ns","x":4.06,"y":6.2}],
"dlab":[{"t":"RDT","x":4,"y":-1.367},{"t":"LM","x":5,"y":-1.367}]
},
"concat":[
{"width":316,"height":233,
"layer":[
{"data":{"name":"venn"},"mark":{"type":"point","shape":"circle","filled":true,"size":16286,"opacity":1,"stroke":"#7f7f7f","strokeWidth":0.8,"blend":"multiply"},
"encoding":{"x":{"field":"cx","type":"quantitative","scale":{"domain":[-1.875,2.514],"nice":false,"zero":false},"axis":null},"y":{"field":"cy","type":"quantitative","scale":{"domain":[-2.111,1.125],"nice":false,"zero":false},"axis":null},"fill":{"field":"set","type":"nominal","scale":{"domain":["LM","qPCR","RDT"],"range":["#e4e4e6","#dfe6d7","#f3e9c9"]},"legend":null}}},
{"data":{"name":"vtext"},"transform":[{"filter":"datum.kind == 'label'"}],"mark":{"type":"text","fontSize":16,"fontWeight":"bold","baseline":"middle","color":"#000"},
"encoding":{"x":{"field":"x","type":"quantitative","axis":null},"y":{"field":"y","type":"quantitative","axis":null},"text":{"field":"t"}}},
{"data":{"name":"vtext"},"transform":[{"filter":"datum.kind == 'num'"}],"mark":{"type":"text","fontSize":18,"fontWeight":"bold","baseline":"middle","color":"#000"},
"encoding":{"x":{"field":"x","type":"quantitative","axis":null},"y":{"field":"y","type":"quantitative","axis":null},"text":{"field":"t"}}},
{"data":{"values":[{"t":"A","x":-2.68,"y":1.556}]},"mark":{"type":"text","fontSize":22,"fontWeight":"bold","baseline":"top","align":"left","color":"#000"},
"encoding":{"x":{"field":"x","type":"quantitative","axis":null},"y":{"field":"y","type":"quantitative","axis":null},"text":{"field":"t"}}}
]},
{"width":317,"height":233,
"layer":[
{"data":{"name":"violin"},"mark":{"type":"area","orient":"horizontal","interpolate":"monotone","strokeWidth":1.2,"opacity":1},
"encoding":{
"y":{"field":"y","type":"quantitative","title":"Log₁₀ parasites/µl (qPCR)","scale":{"domain":[-1,6],"nice":false,"zero":false},"axis":{"values":[-1,0,1,2,3,4,5,6],"tickCount":8,"labelExpr":"'10' + ['⁻¹','⁰','¹','²','³','⁴','⁵','⁶'][datum.value + 1]","tickSize":8,"labelPadding":3,"titlePadding":8,"offset":-24,"labelOverlap":false}},
"x":{"field":"lo","type":"quantitative","title":null,"stack":null,"scale":{"domain":[0.067,3.67],"nice":false,"zero":false},"axis":{"values":[1,2,3],"labelExpr":"['','RDT+','LM+','RDT+/LM−'][datum.value]","tickSize":6,"labelPadding":8,"labelFontSize":16,"labelBaseline":"top","domain":false,"labelOverlap":false}},
"x2":{"field":"hi"},
"fill":{"field":"g","type":"nominal","scale":{"domain":["RDT+","LM+","RDT+/LM−"],"range":["#ffc2c2","#c2c2ff","#c4fac4"]},"legend":null},
"stroke":{"field":"g","type":"nominal","scale":{"domain":["RDT+","LM+","RDT+/LM−"],"range":["#ff2a2a","#2a2aff","#33cc33"]},"legend":null}}},
{"data":{"name":"vq"},"transform":[{"filter":"datum.q == 'quart'"}],"mark":{"type":"rule","color":"#222","strokeWidth":1.5},
"encoding":{"y":{"field":"y","type":"quantitative","title":"Log₁₀ parasites/µl (qPCR)"},"x":{"field":"lo","type":"quantitative","title":null},"x2":{"field":"hi"}}},
{"data":{"name":"vq"},"transform":[{"filter":"datum.q == 'med'"}],"mark":{"type":"rule","color":"#000","strokeWidth":2.5},
"encoding":{"y":{"field":"y","type":"quantitative","title":"Log₁₀ parasites/µl (qPCR)"},"x":{"field":"lo","type":"quantitative","title":null},"x2":{"field":"hi"}}},
{"data":{"name":"bbr"},"mark":{"type":"rule","color":"#000","strokeWidth":2},
"encoding":{"x":{"field":"x1","type":"quantitative","title":null},"x2":{"field":"x2"},"y":{"field":"y1","type":"quantitative","title":"Log₁₀ parasites/µl (qPCR)"},"y2":{"field":"y2"}}},
{"data":{"name":"bax"},"mark":{"type":"rule","color":"#000","strokeWidth":2},
"encoding":{"x":{"field":"x1","type":"quantitative","title":null},"x2":{"field":"x2"},"y":{"field":"y","type":"quantitative","title":"Log₁₀ parasites/µl (qPCR)"}}},
{"data":{"name":"bst"},"mark":{"type":"text","fontSize":20,"fontWeight":"bold","baseline":"middle","color":"#000"},
"encoding":{"x":{"field":"x","type":"quantitative","title":null},"y":{"field":"y","type":"quantitative","title":"Log₁₀ parasites/µl (qPCR)"},"text":{"field":"t"}}},
{"data":{"values":[{"t":"B","x":-0.853,"y":6.93}]},"mark":{"type":"text","fontSize":22,"fontWeight":"bold","baseline":"top","align":"left","color":"#000"},
"encoding":{"x":{"field":"x","type":"quantitative","title":null},"y":{"field":"y","type":"quantitative","title":"Log₁₀ parasites/µl (qPCR)"},"text":{"field":"t"}}}
]},
{"width":316,"height":228,"view":{"stroke":"#000","strokeWidth":1.5},
"layer":[
{"data":{"name":"sc"},"mark":{"type":"point","shape":"circle","filled":true,"size":44,"fill":"#8a8a8a","fillOpacity":0.55,"stroke":"#4a4a4a","strokeWidth":0.7,"strokeOpacity":0.9},
"encoding":{
"x":{"field":"x","type":"quantitative","title":"Log₁₀ parasites/µl (LM)","scale":{"domain":[1,6],"nice":false,"zero":false},"axis":{"values":[1,2,3,4,5,6],"tickCount":6,"labelExpr":"'' + datum.value","tickSize":5,"labelPadding":3,"titlePadding":7,"domainWidth":1.5,"tickWidth":1.5,"labelOverlap":false}},
"y":{"field":"y","type":"quantitative","title":"Log₁₀ parasites/µl (qPCR)","scale":{"domain":[-1,6],"nice":false,"zero":false},"axis":{"values":[-1,0,1,2,3,4,5,6],"tickCount":8,"labelExpr":"'' + datum.value","tickSize":5,"labelPadding":3,"titlePadding":8,"domainWidth":1.5,"tickWidth":1.5,"labelOverlap":false}}}},
{"data":{"name":"reg"},"mark":{"type":"line","color":"#ff0000","strokeWidth":1},
"encoding":{"x":{"field":"x","type":"quantitative","title":"Log₁₀ parasites/µl (LM)"},"y":{"field":"y","type":"quantitative","title":"Log₁₀ parasites/µl (qPCR)"}}},
{"data":{"name":"cst"},"transform":[{"filter":"datum.part == 'sym'"}],"mark":{"type":"text","fontSize":16,"fontWeight":"bold","fontStyle":"italic","baseline":"middle","align":"left","color":"#000"},
"encoding":{"x":{"field":"x","type":"quantitative","title":"Log₁₀ parasites/µl (LM)"},"y":{"field":"y","type":"quantitative","title":"Log₁₀ parasites/µl (qPCR)"},"text":{"field":"t"}}},
{"data":{"name":"cst"},"transform":[{"filter":"datum.part == 'val'"}],"mark":{"type":"text","fontSize":16,"fontWeight":"bold","baseline":"middle","align":"left","color":"#000"},
"encoding":{"x":{"field":"x","type":"quantitative","title":"Log₁₀ parasites/µl (LM)"},"y":{"field":"y","type":"quantitative","title":"Log₁₀ parasites/µl (qPCR)"},"text":{"field":"t"}}},
{"data":{"values":[{"t":"C","x":0.082,"y":7.63}]},"mark":{"type":"text","fontSize":22,"fontWeight":"bold","baseline":"top","align":"left","color":"#000"},
"encoding":{"x":{"field":"x","type":"quantitative","title":"Log₁₀ parasites/µl (LM)"},"y":{"field":"y","type":"quantitative","title":"Log₁₀ parasites/µl (qPCR)"},"text":{"field":"t"}}}
]},
{"width":336,"height":229,
"layer":[
{"data":{"name":"dp"},"mark":{"type":"point","shape":"circle","filled":true,"size":40,"strokeWidth":1.2,"opacity":1},
"encoding":{
"x":{"field":"x","type":"quantitative","title":null,"scale":{"domain":[0.33,5.67],"nice":false,"zero":false},"axis":{"values":[1,2,3,4,5],"tickCount":5,"labelExpr":"datum.value == 1 ? ['pfhrp2−','pfhrp3−'] : datum.value == 2 ? ['pfhrp2+','pfhrp3−'] : datum.value == 3 ? ['pfhrp2−','pfhrp3+'] : ['\u00a0','pfhrp2+','pfhrp3+']","labelFontStyle":"italic","labelLineHeight":18,"labelBaseline":"top","tickSize":7,"labelPadding":5,"labelOverlap":false}},
"y":{"field":"y","type":"quantitative","title":"Log₁₀ parasites/µl (LM)","scale":{"domain":[-1,6],"nice":false,"zero":false},"axis":{"values":[-1,0,1,2,3,4,5,6],"tickCount":8,"labelExpr":"'10' + ['⁻¹','⁰','¹','²','³','⁴','⁵','⁶'][datum.value + 1]","tickSize":6,"labelPadding":3,"titlePadding":8,"labelOverlap":false}},
"fill":{"field":"g","type":"nominal","scale":{"domain":["p2-p3-","p2+p3-","p2-p3+","RDT","LM"],"range":["rgba(214,120,240,0.6)","rgba(255,255,255,0.2)","rgba(255,190,120,0.2)","rgba(40,40,255,0.75)","rgba(45,45,255,0.5)"]},"legend":null},
"stroke":{"field":"g","type":"nominal","scale":{"domain":["p2-p3-","p2+p3-","p2-p3+","RDT","LM"],"range":["#c44fe0","#2ecc2e","#ffa04a","#2424ff","#2b2bff"]},"legend":null}}},
{"data":{"name":"msd"},"mark":{"type":"rule","color":"#000","strokeWidth":1.5},
"encoding":{"x":{"field":"x","type":"quantitative","title":null},"y":{"field":"mean","type":"quantitative","title":"Log₁₀ parasites/µl (LM)"},"y2":{"field":"sd"}}},
{"data":{"name":"msd"},"mark":{"type":"tick","orient":"horizontal","color":"#000","size":20,"thickness":1.5},
"encoding":{"x":{"field":"x","type":"quantitative","title":null},"y":{"field":"sd","type":"quantitative","title":"Log₁₀ parasites/µl (LM)"}}},
{"data":{"name":"msd"},"mark":{"type":"tick","orient":"horizontal","color":"#000","size":41,"thickness":2.5},
"encoding":{"x":{"field":"x","type":"quantitative","title":null},"y":{"field":"mean","type":"quantitative","title":"Log₁₀ parasites/µl (LM)"}}},
{"data":{"name":"dbr"},"mark":{"type":"rule","color":"#000","strokeWidth":2},
"encoding":{"x":{"field":"x1","type":"quantitative","title":null},"x2":{"field":"x2"},"y":{"field":"y1","type":"quantitative","title":"Log₁₀ parasites/µl (LM)"},"y2":{"field":"y2"}}},
{"data":{"name":"dst"},"transform":[{"filter":"datum.kind == 'star'"}],"mark":{"type":"text","fontSize":20,"fontWeight":"bold","baseline":"middle","color":"#000"},
"encoding":{"x":{"field":"x","type":"quantitative","title":null},"y":{"field":"y","type":"quantitative","title":"Log₁₀ parasites/µl (LM)"},"text":{"field":"t"}}},
{"data":{"name":"dst"},"transform":[{"filter":"datum.kind == 'ns'"}],"mark":{"type":"text","fontSize":16,"fontStyle":"italic","baseline":"middle","color":"#000"},
"encoding":{"x":{"field":"x","type":"quantitative","title":null},"y":{"field":"y","type":"quantitative","title":"Log₁₀ parasites/µl (LM)"},"text":{"field":"t"}}},
{"data":{"name":"dlab"},"mark":{"type":"text","fontSize":15,"fontWeight":"bold","baseline":"top","color":"#000"},
"encoding":{"x":{"field":"x","type":"quantitative","title":null},"y":{"field":"y","type":"quantitative","title":"Log₁₀ parasites/µl (LM)"},"text":{"field":"t"}}},
{"data":{"values":[{"t":"D","x":-0.96,"y":7.62}]},"mark":{"type":"text","fontSize":22,"fontWeight":"bold","baseline":"top","align":"left","color":"#000"},
"encoding":{"x":{"field":"x","type":"quantitative","title":null},"y":{"field":"y","type":"quantitative","title":"Log₁₀ parasites/µl (LM)"},"text":{"field":"t"}}}
]}
]
}
